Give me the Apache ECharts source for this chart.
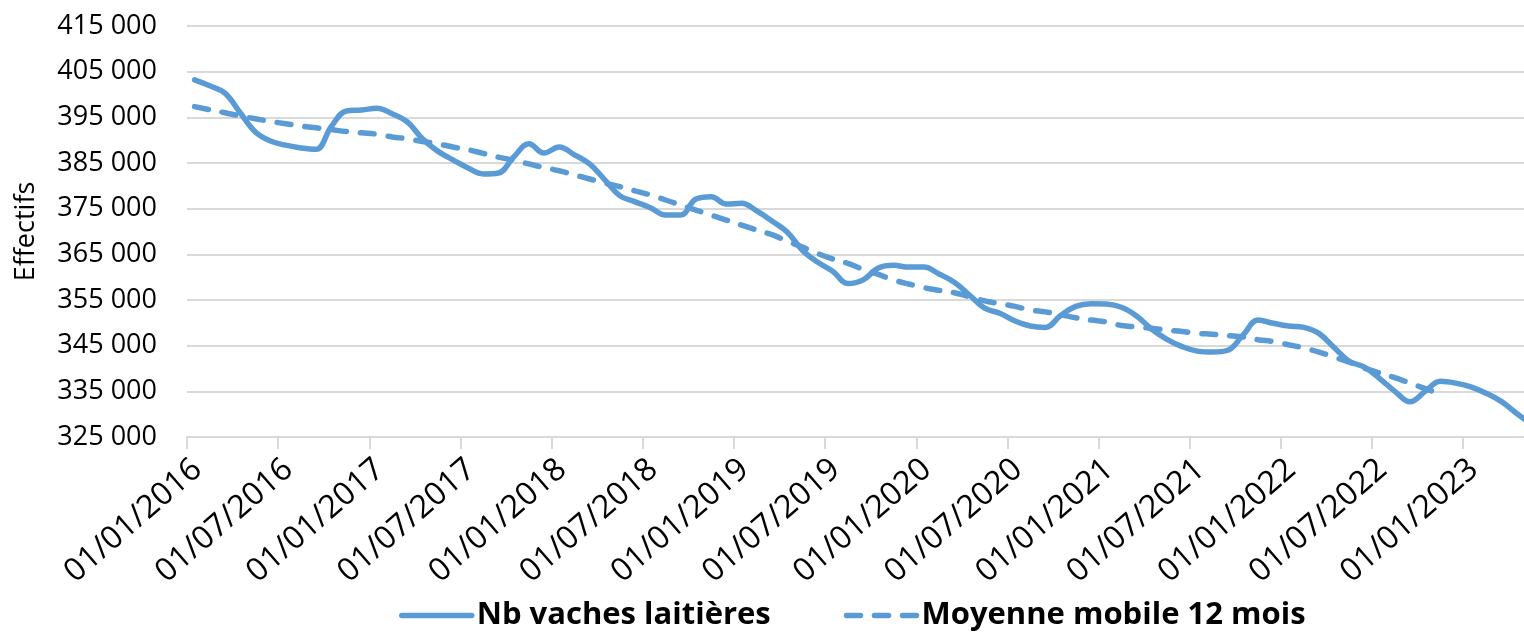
<!DOCTYPE html>
<html>
<head>
<meta charset="utf-8">
<script src="https://cdn.jsdelivr.net/npm/echarts@6/dist/echarts.min.js"></script>
<style>
  html, body { margin: 0; padding: 0; background: #fff; }
  #chart { width: 1524px; height: 633px; }
</style>
</head>
<body>
<div id="chart"></div>
<script>
// mois de janvier 2016 à mai 2023
let firstYear = 2016;
let monthCount = 89;
let months = [];
for (let i = 0; i < monthCount; i++) {
  let y = firstYear + Math.floor(i / 12);
  let m = (i % 12) + 1;
  months.push(y + '-' + (m < 10 ? '0' + m : m));
}

let tickLabels = ['01/01/2016', '01/07/2016', '01/01/2017', '01/07/2017', '01/01/2018',
  '01/07/2018', '01/01/2019', '01/07/2019', '01/01/2020', '01/07/2020', '01/01/2021',
  '01/07/2021', '01/01/2022', '01/07/2022', '01/01/2023'];

let vaches = [
  403200, 401900, 400300, 396000, 391800, 389800, 388900, 388300, 388000, 393000, 396400, 396600,
  397000, 395800, 394000, 390300, 387600, 385700, 383900, 382600, 382800, 386300, 389200, 387200,
  388500, 386800, 384800, 381300, 377800, 376500, 375200, 373600, 373600, 377100, 377600, 376000,
  376200, 374500, 372300, 369900, 365900, 363300, 361300, 358600, 359400, 362000, 362600, 362200,
  362200, 360700, 358900, 356100, 353200, 352100, 350400, 349300, 349000, 351600, 353600, 354200,
  354100, 353400, 351500, 348600, 346400, 344800, 343800, 343600, 344000, 347300, 350600, 349900,
  349300, 349000, 347700, 344600, 341600, 340300, 337800, 335000, 332700, 335000, 337200, 336800,
  336000, 334600, 332800, 330200, 327800
];

let moyenne = [
  397350, 396650, 396000, 395300, 394700, 394100, 393600, 393100, 392700, 392300, 391900, 391600,
  391300, 390700, 390300, 389700, 389200, 388500, 387900, 387100, 386300, 385600, 384800, 384000,
  383300, 382400, 381500, 380600, 379800, 378900, 378000, 376900, 375800, 374700, 373600, 372500,
  371400, 370300, 369300, 367900, 366600, 365200, 364000, 363000, 361700, 360600, 359400, 358500,
  357700, 357100, 356600, 355700, 354800, 354200, 353600, 352800, 352400, 351800, 351100, 350600,
  350200, 349400, 349100, 348800, 348400, 348100, 347700, 347500, 347200, 346900, 346300, 345900,
  345200, 344500, 343600, 342500, 341400, 340100, 339000, 338000, 336800, 335600, 334400
];

let blue = '#5b9bd5';
let font = 'Open Sans';

// points au milieu de chaque mois (axe de dates Excel)
let toPoints = (arr) => arr.map((v, i) => [i + 0.5, v]);

let chart = echarts.init(document.getElementById('chart'), null, { renderer: 'canvas' });

let option = {
  animation: false,
  textStyle: { fontFamily: font, color: '#000' },
  grid: { left: 187, right: 0, top: 26, bottom: 196, containLabel: false },
  legend: {
    left: 394,
    top: 595,
    itemWidth: 70,
    itemHeight: 30,
    itemGap: 73,
    itemStyle: { opacity: 0 },
    lineStyle: { width: 5.5 },
    textStyle: { fontFamily: font, fontSize: 31, fontWeight: 'bold', color: '#000' },
    data: ['Nb vaches laitières', 'Moyenne mobile 12 mois']
  },
  xAxis: {
    type: 'value',
    min: 0,
    max: 88,
    interval: 6,
    axisLine: { show: true, lineStyle: { color: '#d9d9d9', width: 2 } },
    axisTick: { show: true, length: 12, lineStyle: { color: '#d9d9d9', width: 2 } },
    splitLine: { show: false },
    axisLabel: {
      rotate: 41,
      margin: 16,
      fontSize: 32,
      verticalAlign: 'top',
      color: '#000',
      fontFamily: font,
      showMaxLabel: false,
      formatter: (v) => (v % 6 === 0 && tickLabels[v / 6]) ? tickLabels[v / 6] : ''
    }
  },
  yAxis: {
    type: 'value',
    min: 325000,
    max: 415000,
    interval: 10000,
    name: 'Effectifs',
    nameLocation: 'middle',
    nameGap: 147,
    nameRotate: 90,
    nameTextStyle: { fontFamily: font, fontSize: 27, color: '#000' },
    axisLine: { show: false },
    axisTick: { show: false },
    splitLine: { show: true, lineStyle: { color: '#d9d9d9', width: 2 } },
    axisLabel: {
      margin: 30,
      fontSize: 27,
      color: '#000',
      fontFamily: font,
      formatter: (v) => String(v).replace(/\B(?=(\d{3})+(?!\d))/g, ' ')
    }
  },
  series: [
    {
      name: 'Nb vaches laitières',
      type: 'line',
      data: toPoints(vaches),
      smooth: 0.4,
      symbol: 'none',
      clip: true,
      lineStyle: { color: blue, width: 5.5, cap: 'round', join: 'round' },
      itemStyle: { color: blue }
    },
    {
      name: 'Moyenne mobile 12 mois',
      type: 'line',
      data: toPoints(moyenne),
      smooth: 0.4,
      symbol: 'none',
      lineStyle: { color: blue, width: 5.5, type: [14, 14], cap: 'round' },
      itemStyle: { color: blue }
    }
  ]
};

chart.setOption(option);
</script>
</body>
</html>
